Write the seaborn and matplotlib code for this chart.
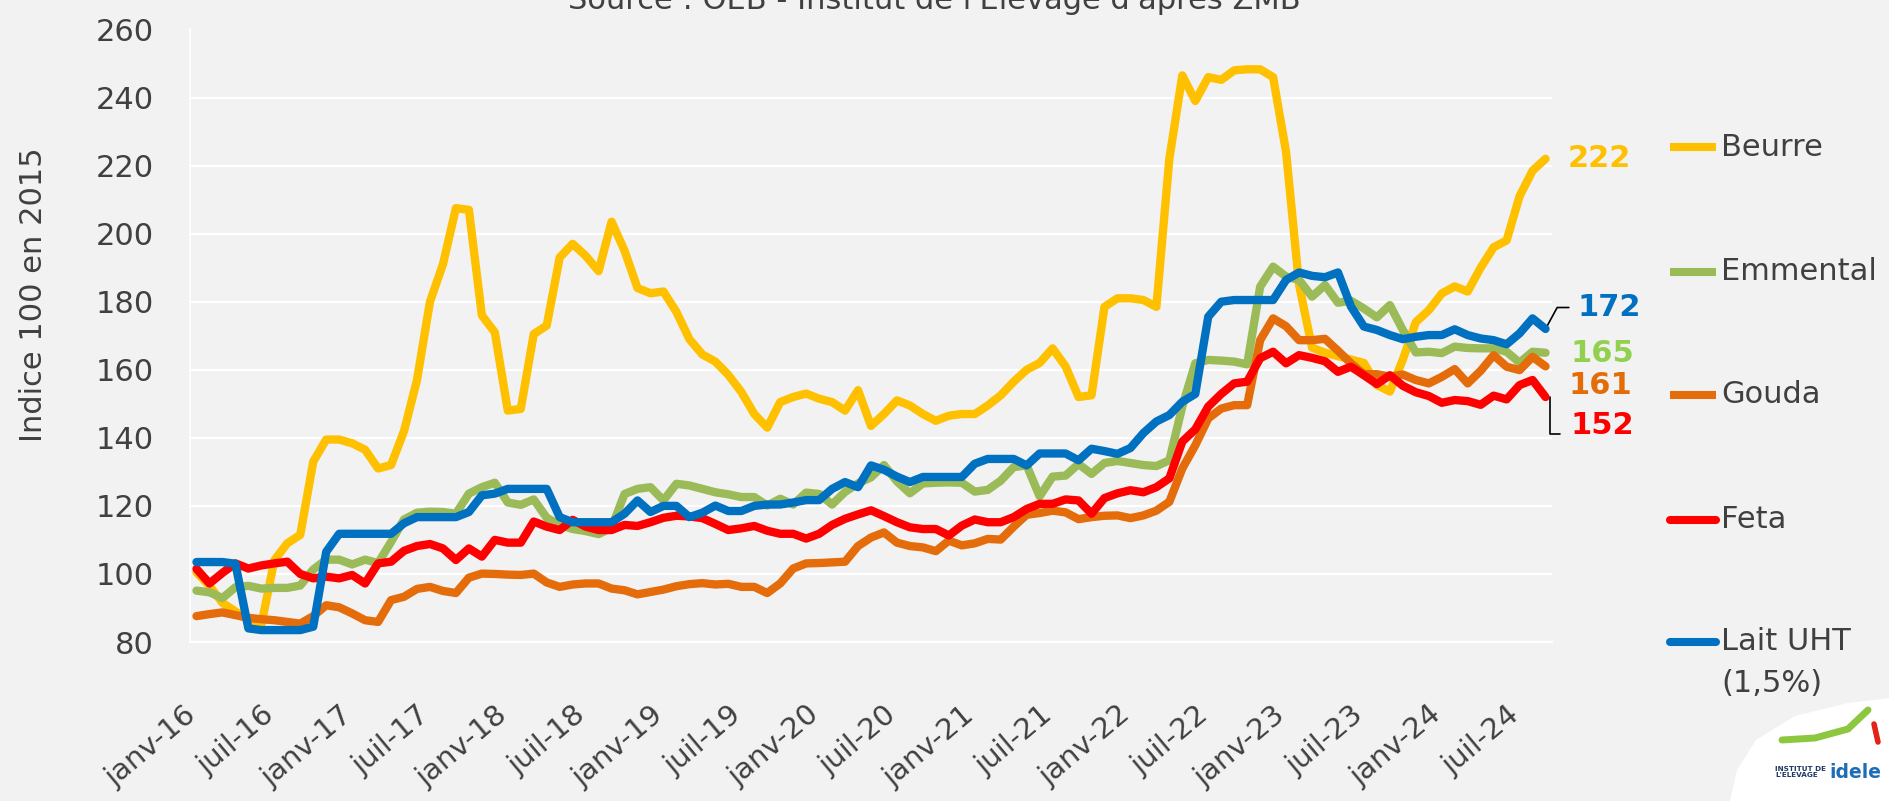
import matplotlib
matplotlib.use("Agg")
import numpy as np
import pandas as pd
import matplotlib.pyplot as plt
import seaborn as sns
from matplotlib.lines import Line2D
from matplotlib.patches import Polygon
from matplotlib.transforms import ScaledTranslation

# ---------------- data (monthly index, base 100 in 2015), janv-16 .. sept-24 ----------------
series_names = ["Beurre", "Emmental", "Gouda", "Feta", "Lait UHT (1,5%)"]
series_colors = ["#FFC000", "#9BBB59", "#E46C0A", "#FF0000", "#0070C0"]

beurre = [100.5, 96.5, 91.5, 89, 86.5, 85, 104, 109, 111.5, 133,
          139.5, 139.5, 138.4, 136.5, 131, 132, 142, 157, 180, 191,
          207.5, 207, 176, 171, 148, 148.5, 170.5, 173, 193, 197,
          193.5, 189, 203.5, 195, 184, 182.5, 183, 177, 169, 164.5,
          162.4, 158.5, 153.5, 147, 143, 150.5, 152, 153, 151.5, 150.5,
          148, 154, 143.5, 147, 151, 149.5, 147, 145, 146.5, 147,
          147, 149.5, 152.5, 156.5, 160, 162, 166.3, 161, 152, 152.5,
          178.5, 181, 181, 180.5, 178.5, 222, 246.5, 239, 246, 245.2,
          248, 248.3, 248.3, 246, 224, 185, 166.5, 165, 164, 163,
          162, 155.5, 153.6, 163, 174, 177.5, 182.4, 184.5, 183, 190,
          196, 198, 211, 218.5, 222]

emmental = [95.1, 94.6, 92.9, 96.1, 96.5, 95.7, 95.9, 95.9, 96.6, 101.3,
            104.2, 104.2, 102.8, 104.2, 103.2, 109.4, 116, 118, 118.3, 118.2,
            117.7, 123.6, 125.5, 126.8, 121, 120.3, 121.9, 116.5, 114.4, 113.2,
            112.6, 111.7, 113.6, 123.5, 125, 125.5, 121.6, 126.5, 126, 125,
            124, 123.4, 122.6, 122.6, 120.1, 122.1, 120.4, 123.9, 123.5, 120.4,
            124.1, 126.6, 128.4, 132, 127.2, 123.7, 126.6, 126.8, 126.9, 126.8,
            124.2, 124.7, 127.4, 131.4, 131.9, 122.8, 128.6, 128.9, 132.3, 129.4,
            132.6, 133.2, 132.6, 132, 131.7, 133.4, 149.2, 161.9, 162.9, 162.7,
            162.4, 161.6, 184.4, 190.3, 187.4, 186.4, 181.5, 184.9, 179.7, 180.3,
            178, 175.4, 179, 171.7, 165.1, 165.3, 164.9, 166.8, 166.4, 166.3,
            166.3, 165.3, 162.1, 165.3, 165]

gouda = [87.6, 88.2, 88.7, 87.9, 87.1, 86.7, 86.4, 85.9, 85.4, 87.6,
         90.8, 90.2, 88.4, 86.4, 85.9, 92.3, 93.3, 95.6, 96.2, 95,
         94.4, 98.9, 100.1, 100, 99.8, 99.7, 100.1, 97.5, 96.2, 96.9,
         97.2, 97.2, 95.7, 95.2, 94, 94.7, 95.4, 96.4, 97, 97.3,
         96.9, 97.1, 96.2, 96.2, 94.4, 97.2, 101.6, 103.1, 103.2, 103.4,
         103.6, 108.2, 110.7, 112.2, 109.2, 108.2, 107.8, 106.7, 109.8, 108.4,
         109, 110.3, 110.1, 113.9, 117.4, 117.9, 118.6, 118.1, 116.1, 116.7,
         117.1, 117.2, 116.4, 117.2, 118.6, 121.2, 131, 137.8, 145.7, 148.6,
         149.6, 149.6, 168.7, 175.1, 172.8, 168.7, 168.7, 169.1, 165.6, 161.9,
         158.7, 158.7, 158, 158.6, 157, 156, 157.9, 160.2, 156, 159.7,
         164.3, 160.9, 159.9, 163.8, 161]

feta = [101.5, 97.2, 100.3, 103.1, 101.6, 102.5, 103.1, 103.6, 100, 98.7,
        99.2, 98.7, 99.7, 97.2, 103.1, 103.6, 106.8, 108.2, 108.8, 107.5,
        104.1, 107.5, 105.1, 110, 109.2, 109.2, 115.4, 113.9, 112.9, 115.9,
        113.9, 112.9, 112.9, 114.4, 114.1, 115.2, 116.5, 117.1, 116.9, 116.4,
        114.7, 112.9, 113.4, 114.1, 112.7, 111.8, 111.8, 110.4, 111.8, 114.4,
        116.2, 117.5, 118.7, 117, 115.2, 113.7, 113.2, 113.2, 111.3, 114.2,
        116, 115.2, 115.2, 116.7, 119.1, 120.6, 120.6, 121.9, 121.6, 117.7,
        122.3, 123.7, 124.6, 124, 125.5, 128.1, 138.9, 142.5, 149.2, 152.9,
        156, 156.5, 163.4, 165.3, 161.9, 164.3, 163.5, 162.5, 159.4, 160.9,
        158.4, 155.8, 158.4, 155.3, 153.4, 152.3, 150.3, 151.1, 150.8, 149.7,
        152.4, 151.3, 155.5, 157, 152]

lait_uht = [103.5, 103.5, 103.5, 103, 84, 83.5, 83.5, 83.5, 83.5, 84.5,
            106.5, 111.8, 111.8, 111.8, 111.8, 111.8, 114.9, 116.7, 116.7, 116.7,
            116.7, 118.2, 123.1, 123.6, 125, 125, 125, 125, 116.7, 115.2,
            115.2, 115.2, 115.2, 117.7, 121.6, 118.2, 120, 120, 116.7, 118,
            120.1, 118.5, 118.5, 120, 120.4, 120.4, 121, 121.7, 121.7, 125,
            127, 125.5, 131.9, 130.6, 128.6, 127, 128.5, 128.5, 128.5, 128.5,
            132.4, 133.8, 133.8, 133.8, 131.9, 135.4, 135.4, 135.4, 133.4, 136.8,
            136.1, 135.3, 137, 141.4, 144.8, 146.7, 150.6, 152.9, 175.6, 180,
            180.5, 180.5, 180.5, 180.5, 186.4, 188.6, 187.6, 187.2, 188.6, 178.6,
            172.7, 171.7, 170.2, 169, 169.7, 170.2, 170.2, 171.9, 170.2, 169.2,
            168.7, 167.5, 170.7, 175.1, 172]

months = pd.date_range("2016-01-01", periods=len(beurre), freq="MS")
tick_labels = ["janv-16", "juil-16", "janv-17", "juil-17", "janv-18", "juil-18",
               "janv-19", "juil-19", "janv-20", "juil-20", "janv-21", "juil-21",
               "janv-22", "juil-22", "janv-23", "juil-23", "janv-24", "juil-24"]

end_labels = ["222", "165", "161", "152", "172"]
end_label_colors = ["#FFC000", "#92D050", "#E36C09", "#FF0000", "#0070C0"]

# ---------------- figure ----------------
BG = "#F2F2F2"
TXT = "#404040"
sns.set_theme(style="white")
plt.rcParams["font.family"] = ["DejaVu Sans"]

W, H = 1890, 801
fig = plt.figure(figsize=(W / 100, H / 100), dpi=100, facecolor=BG)
ax = fig.add_axes([190 / W, 1 - 642 / H, 1362 / W, 612.5 / H])
ax.set_facecolor(BG)

df = pd.DataFrame({"idx": np.arange(len(months)),
                   "Beurre": beurre, "Emmental": emmental, "Gouda": gouda,
                   "Feta": feta, "Lait UHT (1,5%)": lait_uht})
long = df.melt(id_vars="idx", var_name="serie", value_name="valeur")

sns.lineplot(data=long, x="idx", y="valeur", hue="serie", hue_order=series_names,
             palette=dict(zip(series_names, series_colors)), linewidth=6.0,
             legend=False, ax=ax, sort=False, estimator=None)
for ln in ax.lines:
    ln.set_solid_joinstyle("round")
    ln.set_solid_capstyle("round")

ax.set_xlim(-0.5, len(months) - 0.5)
ax.set_ylim(80, 260)
ax.set_yticks(np.arange(80, 261, 20))
ax.yaxis.grid(True, color="white", lw=1.6)
ax.xaxis.grid(False)
ax.set_axisbelow(True)
ax.tick_params(axis="y", length=0, pad=26, labelsize=22, labelcolor=TXT)

tick_pos = np.arange(0, len(months), 6)
ax.set_xticks(tick_pos)
ax.set_xticklabels(tick_labels, rotation=40, ha="right", va="top")
ax.tick_params(axis="x", which="major", length=0, pad=42, labelsize=21, labelcolor=TXT)
shift = ScaledTranslation(5 / 100, 0, fig.dpi_scale_trans)
for lab in ax.get_xticklabels():
    lab.set_transform(lab.get_transform() + shift)
ax.set_xticks(np.arange(-0.5, len(months) - 0.5, 6), minor=True)
ax.tick_params(axis="x", which="minor", length=8, width=1.5, color="white")
for s in ["top", "right"]:
    ax.spines[s].set_visible(False)
ax.spines["bottom"].set_color("white")
ax.spines["bottom"].set_linewidth(1.6)
ax.spines["left"].set_color("white")
ax.spines["left"].set_linewidth(1.2)
ax.set_xlabel("")
ax.set_ylabel("")

# end-of-series value labels
ax.text(105.7, 222, end_labels[0], color=end_label_colors[0], fontsize=22,
        fontweight="bold", va="center", ha="left", clip_on=False)
ax.text(105.9, 164.8, end_labels[1], color=end_label_colors[1], fontsize=22,
        fontweight="bold", va="center", ha="left", clip_on=False)
ax.text(105.75, 155.5, end_labels[2], color=end_label_colors[2], fontsize=22,
        fontweight="bold", va="center", ha="left", clip_on=False)
ax.text(105.9, 143.5, end_labels[3], color=end_label_colors[3], fontsize=22,
        fontweight="bold", va="center", ha="left", clip_on=False)
ax.text(106.5, 178.3, end_labels[4], color=end_label_colors[4], fontsize=22,
        fontweight="bold", va="center", ha="left", clip_on=False)
# leader lines
ax.plot([104, 104.9, 105.8], [lait_uht[-1], 178.3, 178.3], color="black", lw=1.2,
        clip_on=False, zorder=1)
ax.plot([104.35, 104.35, 105.1], [feta[-1], 141.0, 141.0], color="black", lw=1.2,
        clip_on=False, zorder=1)

# y axis title
fig.text(34 / W, 1 - 295 / H, "Indice 100 en 2015", rotation=90, va="center",
         ha="center", fontsize=22, color=TXT)

# source line (cut at top, as in the original)
fig.text(934 / W, 1 - 9 / H, "Source : OEB - Institut de l'Elevage d'après ZMB",
         ha="center", va="baseline", fontsize=22, color=TXT)

# legend on the right
legend_y = [147, 271.5, 394.7, 519.8, 641.5]
legend_caps = ["butt", "butt", "butt", "round", "round"]
legend_texts = ["Beurre", "Emmental", "Gouda", "Feta", "Lait UHT"]
for name, col, yy, cap in zip(legend_texts, series_colors, legend_y, legend_caps):
    fig.add_artist(Line2D([1670 / W, 1716 / W], [1 - yy / H] * 2, color=col,
                          lw=5.8, solid_capstyle=cap, transform=fig.transFigure))
    fig.text(1721 / W, 1 - yy / H, name, va="center", ha="left", fontsize=22, color=TXT)
fig.text(1721 / W, 1 - 684 / H, "(1,5%)", va="center", ha="left", fontsize=22, color=TXT)

# logo (approximation)
logo_pts = [(1730, 801), (1737, 770), (1756, 740), (1795, 716), (1848, 703),
            (1890, 698), (1890, 801)]
fig.add_artist(Polygon([(x / W, 1 - y / H) for x, y in logo_pts], closed=True,
                       facecolor="white", edgecolor="none", transform=fig.transFigure))
fig.add_artist(Line2D([1782 / W, 1815 / W, 1848 / W, 1868 / W],
                      [1 - 740 / H, 1 - 738 / H, 1 - 729 / H, 1 - 710 / H],
                      color="#8DC63F", lw=5, solid_capstyle="round",
                      transform=fig.transFigure))
fig.add_artist(Line2D([1874 / W, 1878 / W], [1 - 724 / H, 1 - 742 / H],
                      color="#E2231A", lw=4, solid_capstyle="round",
                      transform=fig.transFigure))
fig.text(1775 / W, 1 - 772 / H, "INSTITUT DE\nL'ELEVAGE", fontsize=5.2,
         fontweight="bold", color="#1F3864", va="center", ha="left", linespacing=1.1)
fig.text(1829 / W, 1 - 772 / H, "idele", fontsize=13.5, fontweight="bold",
         color="#1E6DB5", va="center", ha="left")

fig.savefig("out.png", dpi=100, facecolor=BG)
